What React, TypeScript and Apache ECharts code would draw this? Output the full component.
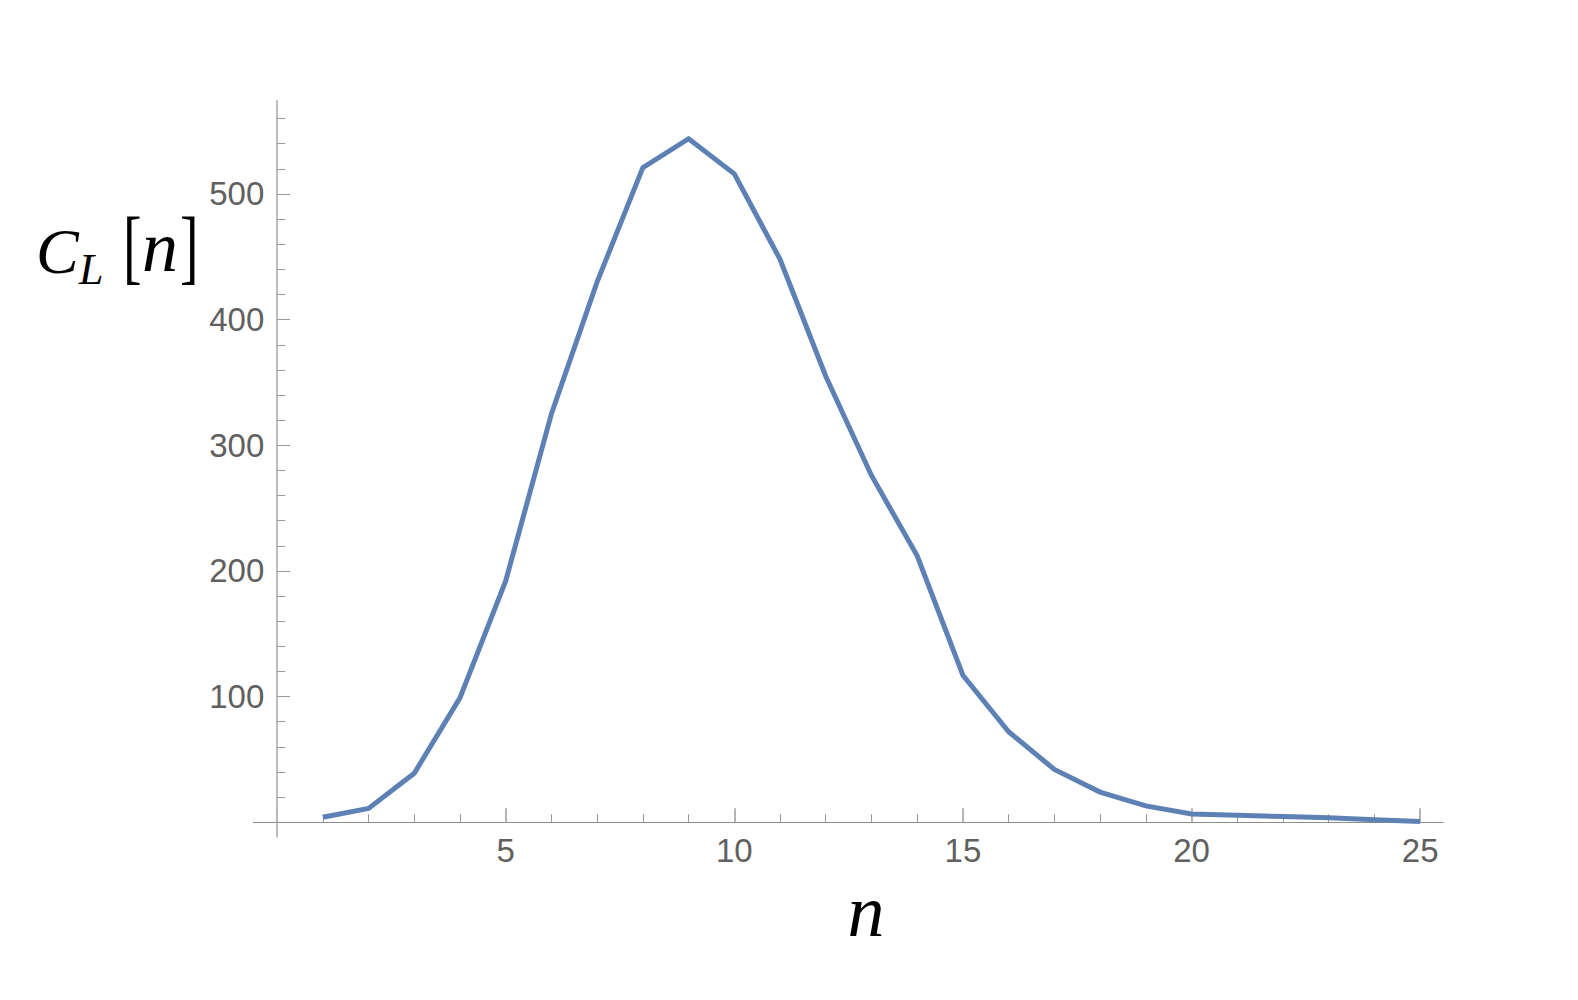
import React, { useEffect, useRef } from "react";
import * as echarts from "echarts";

const nValues = [1, 2, 3, 4, 5, 6, 7, 8, 9, 10, 11, 12, 13, 14, 15, 16, 17, 18, 19, 20, 21, 22, 23, 24, 25];
const counts = [4, 11, 39, 99, 192, 325, 430, 521, 544, 516, 448, 355, 276, 212, 117, 72, 42, 24, 13, 6.5, 5.5, 4.5, 3.5, 2, 0.5];

const xMajorTicks = [0, 5, 10, 15, 20, 25];
const xLabelValues = [5, 10, 15, 20, 25];
const xMinorTicks = [1, 2, 3, 4, 6, 7, 8, 9, 11, 12, 13, 14, 16, 17, 18, 19, 21, 22, 23, 24];
const yMajorTicks = [100, 200, 300, 400, 500];
const yLabelValues = [100, 200, 300, 400, 500];
const yMinorTicks = [20, 40, 60, 80, 120, 140, 160, 180, 220, 240, 260, 280, 320, 340, 360, 380, 420, 440, 460, 480, 520, 540, 560];

const X_MIN = -0.52;
const X_MAX = 25.5;
const Y_MIN = -11.5;
const Y_MAX = 574;

const LINE_COLOR = "#5E81B5";
const LABEL_COLOR = "#606060";
const TICK_FONT = "Liberation Sans";
const MATH_FONT = "Liberation Serif";

export default function App() {
  const ref = useRef<HTMLDivElement>(null);

  useEffect(() => {
    if (!ref.current) return;
    const chart = echarts.init(ref.current, undefined, { renderer: "svg" });
    const labelStyle = {
      color: LABEL_COLOR,
      fontFamily: TICK_FONT,
      fontSize: 33,
    };
    const mathText = (
      text: string,
      x: number,
      y: number,
      fontSize: number,
      italic: boolean,
      lineHeight: number,
      scaleX = 1
    ) => ({
      type: "text",
      x,
      y,
      scaleX,
      style: {
        text,
        fontFamily: MATH_FONT,
        fontStyle: italic ? "italic" : "normal",
        fontSize,
        lineHeight,
        fill: "#000",
        align: "left",
        verticalAlign: "middle",
      },
    });
    const option: any = {
      animation: false,
      backgroundColor: "#ffffff",
      grid: {
        left: 253.3,
        right: 135,
        top: 101,
        bottom: 163.3,
        containLabel: false,
        outerBoundsMode: "none",
      },
      xAxis: [
        {
          type: "value",
          position: "bottom",
          min: X_MIN,
          max: X_MAX,
          axisLine: { show: true, onZero: true, lineStyle: { color: "#8c8c8c", width: 1 } },
          axisTick: {
            show: true,
            inside: true,
            length: 14,
            customValues: xMajorTicks,
            lineStyle: { color: "#b5b5b5", width: 2 },
          },
          axisLabel: { show: true, margin: -2.5, customValues: xLabelValues, ...labelStyle },
          splitLine: { show: false },
        },
        {
          type: "value",
          position: "bottom",
          min: X_MIN,
          max: X_MAX,
          axisLine: { show: false, onZero: true },
          axisTick: {
            show: true,
            inside: true,
            length: 8,
            customValues: xMinorTicks,
            lineStyle: { color: "#999999", width: 1 },
          },
          axisLabel: { show: false },
          splitLine: { show: false },
        },
      ],
      yAxis: [
        {
          type: "value",
          position: "left",
          min: Y_MIN,
          max: Y_MAX,
          axisLine: { show: true, onZero: true, lineStyle: { color: "#bdbdbd", width: 2 } },
          axisTick: {
            show: true,
            inside: true,
            length: 13,
            customValues: yMajorTicks,
            lineStyle: { color: "#9a9a9a", width: 1 },
          },
          axisLabel: { show: true, margin: -11, customValues: yLabelValues, ...labelStyle },
          splitLine: { show: false },
        },
        {
          type: "value",
          position: "left",
          min: Y_MIN,
          max: Y_MAX,
          axisLine: { show: false, onZero: true },
          axisTick: {
            show: true,
            inside: true,
            length: 8,
            customValues: yMinorTicks,
            lineStyle: { color: "#9a9a9a", width: 1 },
          },
          axisLabel: { show: false },
          splitLine: { show: false },
        },
      ],
      series: [
        {
          type: "line",
          xAxisIndex: 0,
          yAxisIndex: 0,
          data: nValues.map((n, i) => [n, counts[i]]),
          showSymbol: false,
          symbol: "none",
          lineStyle: { color: LINE_COLOR, width: 5, join: "miter" },
          itemStyle: { color: LINE_COLOR },
          clip: false,
        },
      ],
      graphic: [
        {
          type: "text",
          x: 866,
          y: 911,
          style: {
            text: "n",
            fontFamily: MATH_FONT,
            fontStyle: "italic",
            fontSize: 74,
            fill: "#000",
            align: "center",
            verticalAlign: "middle",
          },
        },
        mathText("C", 36, 251, 64, true, 50),
        mathText("L", 79, 269, 44, true, 32),
        mathText("[", 123, 247, 82, false, 64, 0.68),
        mathText("n", 142, 247, 72, true, 60),
        mathText("]", 180, 247, 82, false, 64, 0.68),
      ],
    };
    chart.setOption(option);
    return () => {
      chart.dispose();
    };
  }, []);

  return (
    <div
      ref={ref}
      style={{ position: "absolute", left: 0, top: 0, width: 1578, height: 1000, background: "#fff" }}
    />
  );
}
